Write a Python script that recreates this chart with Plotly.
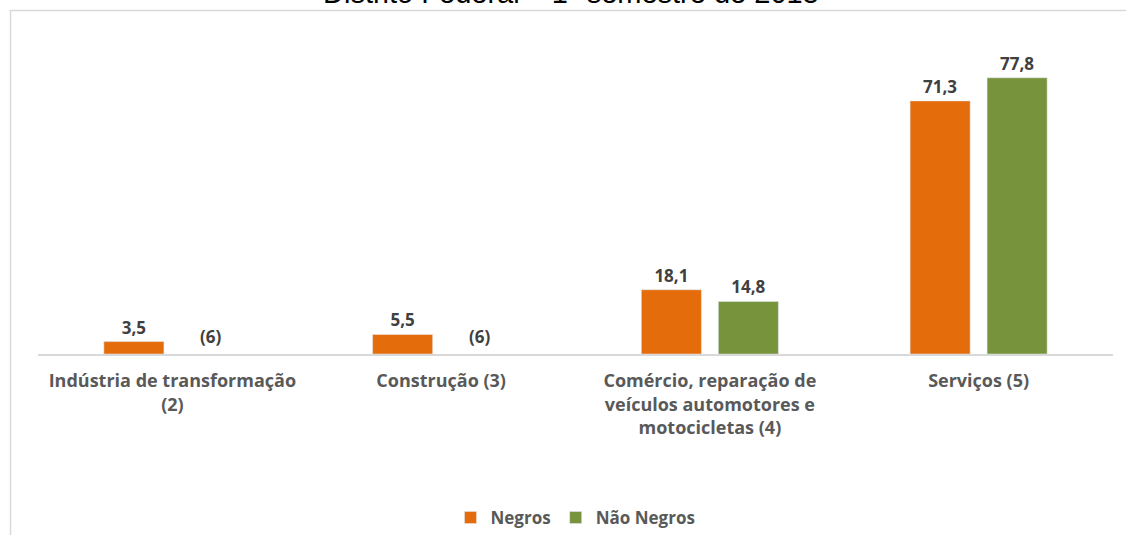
import plotly.graph_objects as go

categories = [
    "Indústria de transformação<br>(2)",
    "Construção (3)",
    "Comércio, reparação de<br>veículos automotores e<br>motocicletas (4)",
    "Serviços (5)",
]
negros = [3.5, 5.5, 18.1, 71.3]
nao_negros = [None, None, 14.8, 77.8]
missing_label = "(6)"
title_text = "Distrito Federal – 1º semestre de 2015"

ORANGE = "#E46C0A"
GREEN = "#77933C"
LABEL_COLOR = "#404040"
TICK_COLOR = "#595959"
FONT = "Open Sans"

W, H = 1126, 535
ML, MR, MT, MB = 37.5, 12.5, 10, 181
PW = W - ML - MR
PH = H - MT - MB

fig = go.Figure()
fig.add_trace(go.Bar(
    name="Negros", x=categories, y=negros, marker_color=ORANGE,
    texttemplate="%{y:.1f}", textposition="outside", cliponaxis=False,
    textfont=dict(family=FONT, size=17, color=LABEL_COLOR, weight="bold"),
))
fig.add_trace(go.Bar(
    name="Não Negros", x=categories, y=nao_negros, marker_color=GREEN,
    texttemplate="%{y:.1f}", textposition="outside", cliponaxis=False,
    textfont=dict(family=FONT, size=17, color=LABEL_COLOR, weight="bold"),
))

# labels for missing Não Negros values
for cat, v in zip(categories, nao_negros):
    if v is None:
        fig.add_annotation(
            x=cat, y=0, xref="x", yref="y", xshift=38.5, yshift=4,
            yanchor="bottom", showarrow=False, text=missing_label,
            font=dict(family=FONT, size=17, color=LABEL_COLOR, weight="bold"),
        )

def px_x(p):
    return (p - ML) / PW

def px_y(p):
    return (H - MB - p) / PH

# title (partly cropped at top): anchored by its bottom edge
fig.add_annotation(
    x=px_x(571), y=px_y(11), xref="paper", yref="paper",
    text=title_text, showarrow=False, xanchor="center", yanchor="bottom",
    font=dict(family="Liberation Sans", size=29, color="#000000"),
)

# chart frame lines (top and left)
fig.add_shape(type="line", xref="paper", yref="paper",
              x0=px_x(9), x1=px_x(1130), y0=px_y(10.5), y1=px_y(10.5),
              line=dict(color="#D9D9D9", width=1.5))
fig.add_shape(type="line", xref="paper", yref="paper",
              x0=px_x(10), x1=px_x(10), y0=px_y(10), y1=px_y(540),
              line=dict(color="#D9D9D9", width=1.5))

fig.update_layout(
    width=W, height=H,
    margin=dict(l=ML, r=MR, t=MT, b=MB, autoexpand=False),
    paper_bgcolor="white", plot_bgcolor="white",
    separators=",.",
    barmode="group", bargap=0.427, bargroupgap=0.22,
    showlegend=True,
    legend=dict(orientation="h", x=0.5, xanchor="center",
                y=px_y(518), yanchor="middle",
                font=dict(family=FONT, size=17, color=TICK_COLOR, weight="bold"),
                itemwidth=30),
    xaxis=dict(showline=True, linecolor="#D9D9D9", linewidth=1.5,
               ticks="", showgrid=False, ticklabelstandoff=10,
               tickfont=dict(family=FONT, size=18, color=TICK_COLOR, weight="bold")),
    yaxis=dict(range=[0, PH / 3.55], visible=False, showgrid=False, zeroline=False),
)

fig.write_html(
    "out.html",
    config={"displayModeBar": False},
    post_script="document.body.style.margin='0';document.body.style.overflow='hidden';",
)
